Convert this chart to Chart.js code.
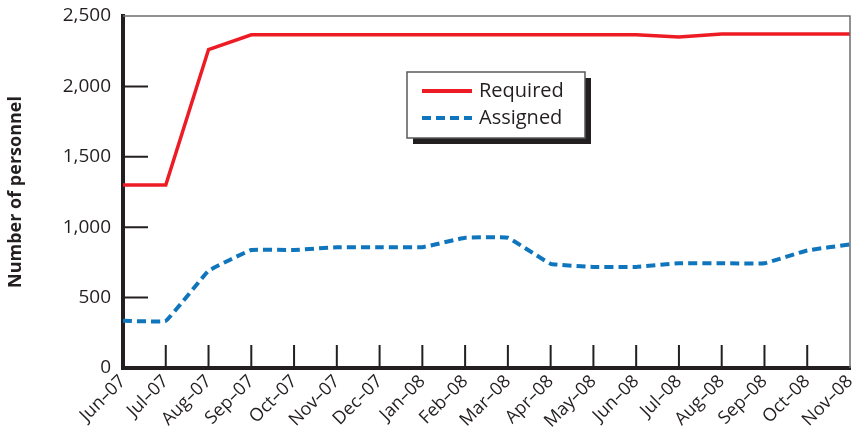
<!DOCTYPE html>
<html>
<head>
<meta charset="utf-8">
<script src="https://cdn.jsdelivr.net/npm/chart.js@4"></script>
<style>
  html, body { margin: 0; padding: 0; background: #fff; }
  #wrap { width: 860px; height: 442px; position: relative; }
</style>
</head>
<body>
<div id="wrap"><canvas id="personnelChart"></canvas></div>
<script>
// Monthly personnel, Jun-07 to Nov-08
const months = ['Jun\u201307', 'Jul\u201307', 'Aug\u201307', 'Sep\u201307', 'Oct\u201307', 'Nov\u201307', 'Dec\u201307',
    'Jan\u201308', 'Feb\u201308', 'Mar\u201308', 'Apr\u201308', 'May\u201308', 'Jun\u201308', 'Jul\u201308',
    'Aug\u201308', 'Sep\u201308', 'Oct\u201308', 'Nov\u201308'];
const required = [1300, 1300, 2262, 2367, 2367, 2367, 2367, 2367, 2367, 2367, 2367, 2367, 2367, 2350, 2372, 2372, 2372, 2372];
const assigned = [335, 335, 690, 838, 838, 858, 858, 858, 925, 925, 740, 718, 718, 744, 744, 744, 835, 878];
const yTicks = [0, 500, 1000, 1500, 2000, 2500];

const FONT = "'Open Sans', 'Noto Sans', sans-serif";
const INK = '#231f20';

// inward tick marks, top/right frame and the boxed legend
const framePlugin = {
    id: 'frame',
    afterDraw(chart) {
        const { ctx, chartArea: a, scales: { x, y } } = chart;
        ctx.save();
        ctx.strokeStyle = '#6d6e71';
        ctx.lineWidth = 1.5;
        ctx.beginPath();
        ctx.moveTo(a.left, a.top);
        ctx.lineTo(a.right, a.top);
        ctx.lineTo(a.right, a.bottom);
        ctx.stroke();

        ctx.strokeStyle = INK;
        ctx.lineWidth = 2;
        ctx.beginPath();
        yTicks.slice(1, -1).forEach(v => {
            const py = y.getPixelForValue(v);
            ctx.moveTo(a.left, py);
            ctx.lineTo(a.left + 25, py);
        });
        months.slice(1, -1).forEach((m, i) => {
            const px = x.getPixelForValue(i + 1);
            ctx.moveTo(px, a.bottom);
            ctx.lineTo(px, a.bottom - 23);
        });
        ctx.stroke();

        // legend box
        const bx = 407, by = 72, bw = 178, bh = 66;
        ctx.fillStyle = INK;
        ctx.fillRect(bx + 6, by + 6, bw, bh);
        ctx.fillStyle = '#fff';
        ctx.fillRect(bx, by, bw, bh);
        ctx.strokeStyle = '#58595b';
        ctx.lineWidth = 1.5;
        ctx.strokeRect(bx, by, bw, bh);

        chart.data.datasets.forEach((ds, i) => {
            const ly = by + 19 + i * 27;
            ctx.strokeStyle = ds.borderColor;
            ctx.lineWidth = 4;
            ctx.setLineDash(ds.borderDash || []);
            ctx.beginPath();
            ctx.moveTo(bx + 15, ly);
            ctx.lineTo(bx + 65, ly);
            ctx.stroke();
            ctx.setLineDash([]);
            ctx.fillStyle = INK;
            ctx.font = `20px ${FONT}`;
            ctx.textBaseline = 'middle';
            ctx.fillText(ds.label, bx + 72, ly);
        });
        ctx.restore();
    }
};

new Chart(document.getElementById('personnelChart').getContext('2d'), {
    type: 'line',
    data: {
        labels: months,
        datasets: [{
            label: 'Required',
            data: required,
            borderColor: '#ed1c24',
            borderWidth: 3.5,
            pointRadius: 0,
            tension: 0,
            fill: false
        }, {
            label: 'Assigned',
            data: assigned,
            borderColor: '#0f75bc',
            borderWidth: 4,
            borderDash: [9, 5],
            pointRadius: 0,
            tension: 0.07,
            fill: false
        }]
    },
    options: {
        responsive: true,
        maintainAspectRatio: false,
        animation: false,
        layout: { padding: { top: 16, right: 10, left: 0, bottom: 0 } },
        plugins: { legend: { display: false }, tooltip: { enabled: false } },
        scales: {
            x: {
                offset: false,
                grid: { display: false, drawTicks: false },
                border: { color: INK, width: 4 },
                ticks: {
                    color: INK,
                    font: { family: FONT, size: 18 },
                    minRotation: 45,
                    maxRotation: 45,
                    autoSkip: false,
                    padding: 3
                },
                afterFit(scale) {
                    scale.height = 74;
                    scale.paddingLeft = 0;
                    scale.paddingRight = 0;
                }
            },
            y: {
                min: 0,
                max: 2500,
                afterBuildTicks(scale) { scale.ticks = yTicks.map(v => ({ value: v })); },
                grid: { display: false, drawTicks: false },
                border: { color: INK, width: 4 },
                ticks: {
                    color: INK,
                    font: { family: FONT, size: 19 },
                    padding: 12,
                    callback: v => v.toLocaleString('en-US')
                },
                title: {
                    display: true,
                    text: 'Number of personnel',
                    color: INK,
                    font: { family: FONT, size: 18, weight: 'bold' },
                    padding: { top: 5, bottom: 6 }
                },
                afterFit(scale) {
                    scale.width = 123;
                    scale.paddingTop = 0;
                    scale.paddingBottom = 0;
                }
            }
        }
    },
    plugins: [framePlugin]
});
</script>
</body>
</html>
